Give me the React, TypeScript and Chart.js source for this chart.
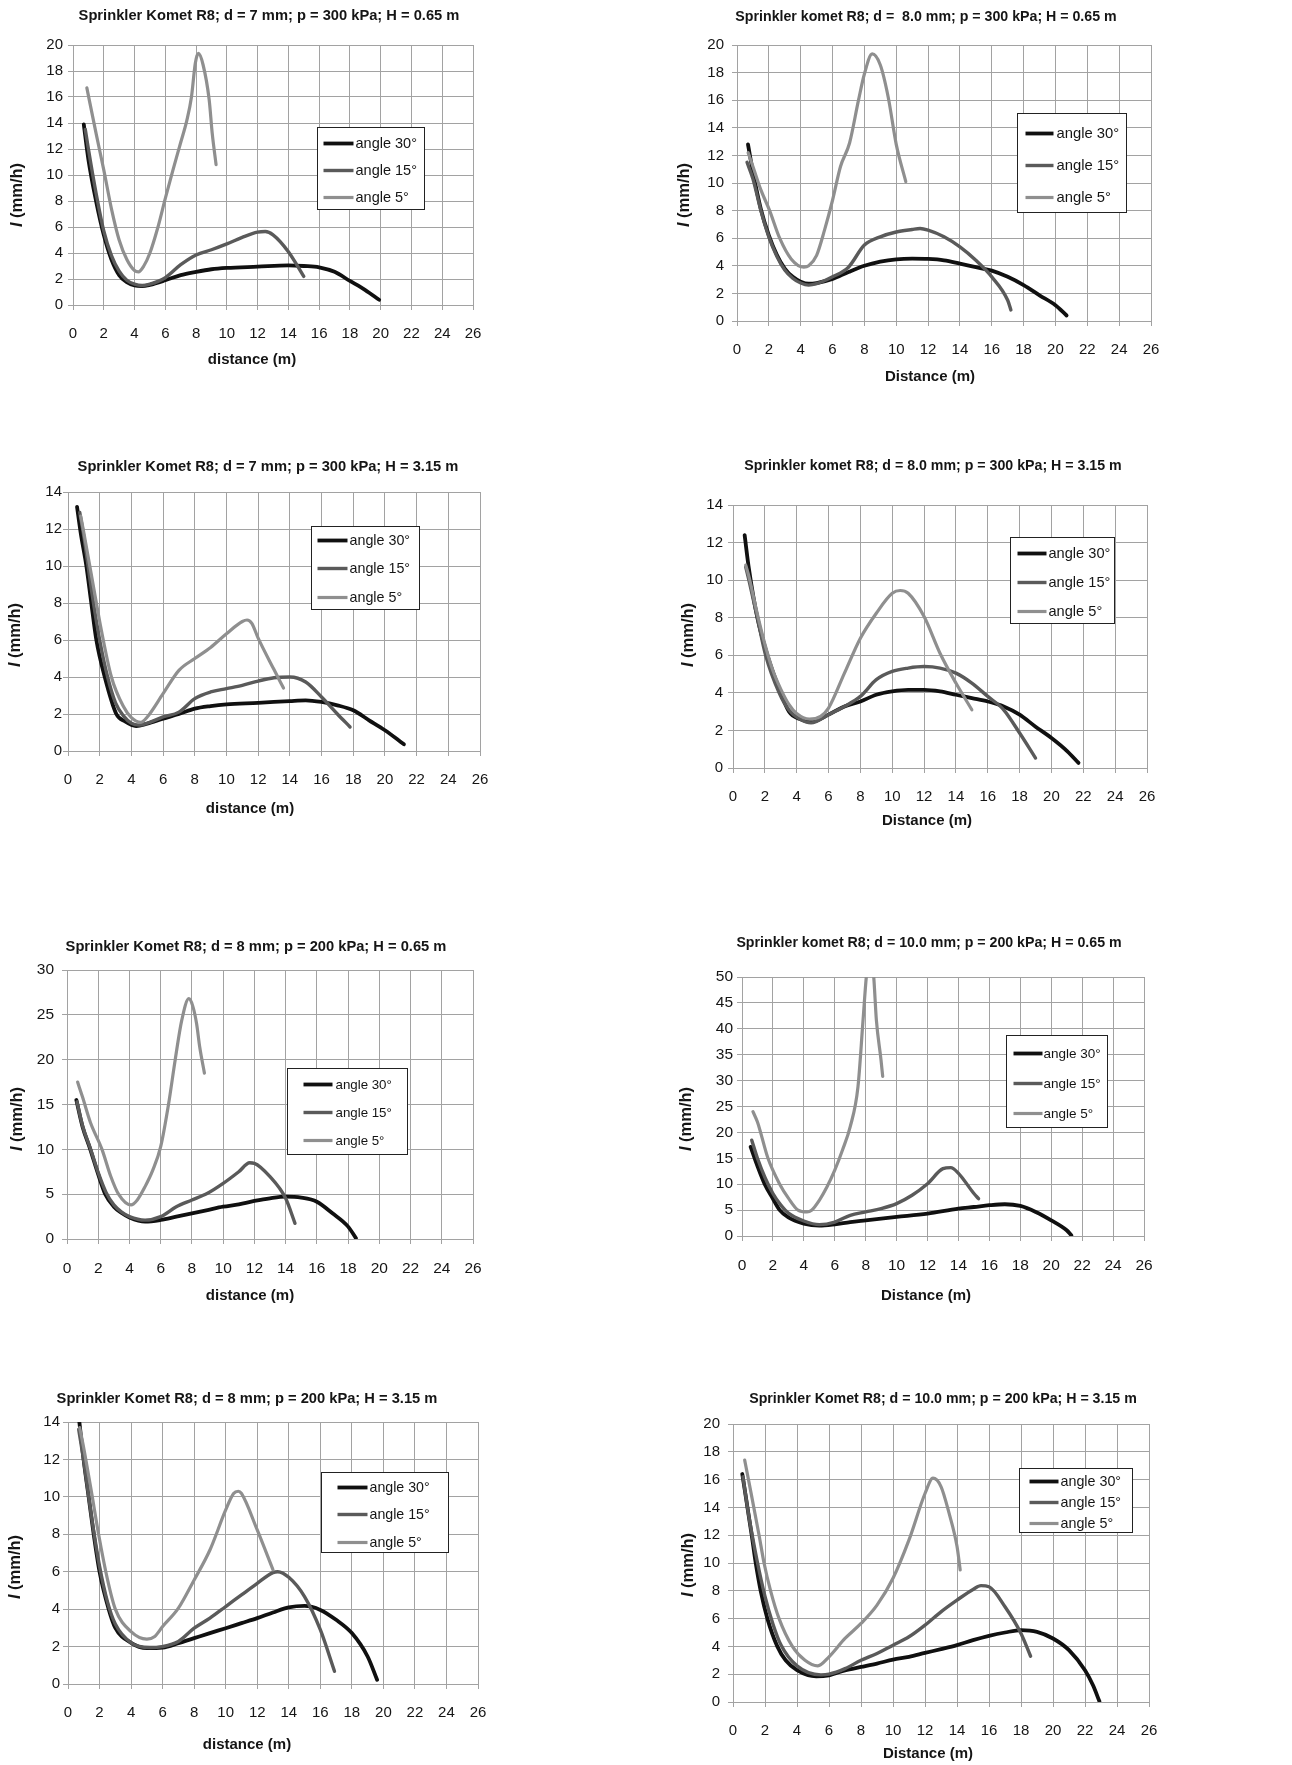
import { useEffect, useRef } from 'react';
import { Chart, registerables } from 'chart.js';

Chart.register(...registerables);

const FONT = "'Liberation Sans', Arial, Helvetica, sans-serif";

// ---------- shared ----------
const xTickStep = 2;
const xMin = 0;
const xMax = 26;
const seriesLabels = ['angle 30°', 'angle 15°', 'angle 5°'];

// ---------- Panel 1: d = 7 mm; p = 300 kPa; H = 0.65 m ----------
const p1x30 = [0.7, 1.0, 1.5, 2.0, 2.5, 3.0, 3.5, 4.0, 4.5, 5, 6, 7, 8, 9, 10, 12, 14, 15, 16, 17, 18, 19, 19.9];
const p1y30 = [13.9, 11.2, 8.0, 5.4, 3.5, 2.3, 1.75, 1.5, 1.45, 1.55, 1.9, 2.3, 2.55, 2.75, 2.85, 2.95, 3.05, 3.0, 2.9, 2.55, 1.85, 1.15, 0.4];
const p1x15 = [0.8, 1.0, 1.5, 2.0, 2.5, 3.0, 3.5, 4.0, 4.5, 5, 6, 7, 8, 9, 10, 11, 12, 12.5, 13, 14, 15];
const p1y15 = [13.5, 12.0, 8.6, 5.7, 3.8, 2.6, 1.9, 1.6, 1.5, 1.6, 2.1, 3.1, 3.85, 4.25, 4.7, 5.2, 5.6, 5.65, 5.4, 4.1, 2.2];
const p1x5 = [0.9, 1.5, 2.0, 2.5, 3.0, 3.5, 4.0, 4.25, 4.6, 5.0, 5.5, 6.0, 6.5, 7.0, 7.4, 7.7, 7.95, 8.15, 8.45, 8.85, 9.05, 9.3];
const p1y5 = [16.7, 13.2, 10.4, 7.4, 5.0, 3.5, 2.65, 2.55, 3.0, 4.0, 5.9, 8.2, 10.4, 12.5, 14.2, 16.0, 18.6, 19.35, 18.5, 15.8, 13.2, 10.8];

// ---------- Panel 2: d = 8.0 mm; p = 300 kPa; H = 0.65 m ----------
const p2x30 = [0.69, 1.0, 1.5, 2.0, 2.5, 3.0, 3.5, 4.0, 4.5, 5, 6, 7, 8, 9, 10, 11, 12, 13, 14, 15, 16, 17, 18, 19, 20, 20.7];
const p2y30 = [12.8, 10.8, 8.1, 6.2, 4.8, 3.8, 3.2, 2.85, 2.7, 2.75, 3.05, 3.55, 4.0, 4.3, 4.47, 4.52, 4.5, 4.4, 4.16, 3.9, 3.65, 3.2, 2.6, 1.86, 1.14, 0.4];
const p2x15 = [0.63, 1.0, 1.5, 2.0, 2.5, 3.0, 3.5, 4.0, 4.5, 5, 6, 7, 8, 9, 10, 11, 11.5, 12, 13, 14, 15, 16, 17, 17.2];
const p2y15 = [11.5, 10.3, 8.0, 6.1, 4.7, 3.7, 3.1, 2.75, 2.6, 2.7, 3.2, 3.9, 5.5, 6.1, 6.45, 6.63, 6.7, 6.58, 6.1, 5.37, 4.4, 3.2, 1.5, 0.8];
const p2x5 = [0.7, 1.0, 1.5, 2.05, 2.68, 3.4, 4.2, 4.5, 5.0, 5.5, 6.0, 6.5, 7.07, 7.63, 8.0, 8.49, 9.0, 9.5, 10.0, 10.6];
const p2y5 = [12.2, 11.2, 9.5, 8.0, 6.0, 4.5, 3.9, 4.0, 4.76, 6.6, 8.75, 11.2, 12.9, 16.0, 17.9, 19.35, 18.55, 16.2, 12.8, 10.1];

// ---------- Panel 3: d = 7 mm; p = 300 kPa; H = 3.15 m ----------
const p3x30 = [0.57, 0.8, 1.16, 1.47, 1.79, 2.32, 3.05, 3.6, 4.3, 5, 6, 7, 8, 9, 10, 12, 14, 15, 16, 17, 18, 19, 20, 21, 21.2];
const p3y30 = [13.2, 11.8, 10, 8, 6, 4, 2, 1.6, 1.35, 1.48, 1.75, 2.0, 2.29, 2.43, 2.52, 2.6, 2.7, 2.74, 2.65, 2.47, 2.2, 1.66, 1.12, 0.49, 0.36];
const p3x15 = [0.74, 1.0, 1.5, 2.0, 2.5, 3.0, 3.5, 4.0, 4.5, 5, 6, 7, 8, 9, 10, 11, 12, 13, 14, 15, 16, 17, 17.8];
const p3y15 = [12.9, 11.6, 8.6, 6.0, 4.0, 2.6, 1.9, 1.5, 1.4, 1.5, 1.84, 2.1, 2.83, 3.19, 3.37, 3.55, 3.78, 3.96, 4.0, 3.73, 2.92, 2.0, 1.3];
const p3x5 = [0.8, 1.0, 1.5, 1.79, 2.0, 2.74, 3.5, 4.0, 4.6, 5, 6, 7, 8, 9, 10, 11, 11.3, 11.6, 12, 13, 13.6];
const p3y5 = [12.7, 11.8, 9.4, 8.0, 7.0, 4.0, 2.4, 1.8, 1.55, 1.84, 3.1, 4.36, 5.0, 5.6, 6.34, 7.0, 7.08, 6.9, 6.1, 4.4, 3.4];

// ---------- Panel 4: d = 8.0 mm; p = 300 kPa; H = 3.15 m ----------
const p4x30 = [0.73, 1.0, 1.53, 2.16, 3.0, 3.52, 4.2, 4.9, 6, 7, 8, 9, 10, 11, 12, 13, 14, 15, 16, 17, 18, 19, 20, 21, 21.7];
const p4y30 = [12.4, 10.6, 8, 6, 4, 3, 2.6, 2.45, 2.84, 3.28, 3.54, 3.9, 4.08, 4.16, 4.16, 4.08, 3.9, 3.72, 3.54, 3.28, 2.84, 2.2, 1.6, 0.89, 0.27];
const p4x15 = [0.8, 1.0, 1.53, 2.05, 2.9, 3.5, 4.2, 4.9, 6, 7, 8, 9, 10, 11, 12, 13, 14, 15, 16, 17, 18, 19];
const p4y15 = [10.7, 10.0, 8, 6, 4, 3.1, 2.6, 2.4, 2.84, 3.28, 3.81, 4.7, 5.14, 5.32, 5.4, 5.32, 5.05, 4.52, 3.81, 3.1, 1.86, 0.53];
const p4x5 = [0.8, 1.0, 1.5, 2.0, 2.5, 3.0, 3.5, 4.0, 4.8, 5.5, 6, 7, 8, 9, 10, 10.5, 11, 12, 13, 14, 15];
const p4y5 = [10.8, 10.2, 8.3, 6.6, 5.2, 4.2, 3.4, 2.9, 2.6, 2.75, 3.19, 5.05, 6.91, 8.24, 9.3, 9.45, 9.3, 8.06, 6.11, 4.52, 3.1];

// ---------- Panel 5: d = 8 mm; p = 200 kPa; H = 0.65 m ----------
const p5x30 = [0.6, 1.0, 1.49, 2.0, 2.45, 3.0, 3.5, 4.0, 5, 6, 7, 8, 9, 10, 11, 12, 13, 14, 15, 16, 17, 18, 18.5];
const p5y30 = [15.5, 12.5, 10, 7.2, 5, 3.6, 2.9, 2.4, 1.93, 2.12, 2.49, 2.86, 3.23, 3.6, 3.87, 4.24, 4.54, 4.72, 4.61, 4.16, 2.86, 1.38, 0.1];
const p5x15 = [0.64, 1.0, 1.5, 2.0, 2.5, 3.0, 3.5, 4.0, 5, 6, 7, 8, 9, 10, 11, 11.7, 12, 13, 14, 14.6];
const p5y15 = [15.3, 12.6, 10.1, 7.4, 5.2, 3.8, 3.0, 2.5, 2.1, 2.49, 3.6, 4.35, 5.1, 6.2, 7.5, 8.5, 8.44, 6.95, 4.54, 1.75];
const p5x5 = [0.68, 1.0, 1.5, 2.24, 2.8, 3.3, 4.1, 4.5, 5.0, 5.5, 6.0, 6.5, 6.93, 7.35, 7.8, 8.05, 8.3, 8.5, 8.8];
const p5y5 = [17.5, 15.8, 13.0, 10, 7.0, 5, 3.8, 4.35, 5.84, 7.7, 10.3, 15.0, 20, 24.4, 26.8, 26.0, 24.0, 21.4, 18.5];

// ---------- Panel 6: d = 10.0 mm; p = 200 kPa; H = 0.65 m ----------
const p6x30 = [0.56, 1.0, 1.47, 2.0, 2.44, 3.0, 4.0, 5, 6, 7, 8, 10, 12, 14, 15, 16, 17, 18, 19, 20, 21, 21.3];
const p6y30 = [17.2, 13.5, 10, 7.2, 5, 3.6, 2.4, 2.0, 2.26, 2.7, 3.03, 3.68, 4.32, 5.29, 5.6, 5.94, 6.13, 5.8, 4.65, 3.03, 1.1, 0.13];
const p6x15 = [0.63, 1.0, 1.5, 2.0, 2.5, 3.0, 4.0, 5, 6, 7, 8, 9, 10, 11, 12, 13, 13.5, 14, 15, 15.3];
const p6y15 = [18.5, 15, 11.2, 8.2, 6, 4.4, 2.9, 2.2, 2.7, 4.0, 4.65, 5.29, 6.26, 7.87, 10.1, 13.0, 13.2, 12.1, 8.2, 7.2];
const p6x5 = [0.71, 1.0, 1.68, 2.44, 3.0, 3.62, 4.2, 4.5, 5, 5.5, 6, 6.5, 7, 7.5, 7.83, 8.04, 8.28, 8.52, 8.69, 8.99, 9.1];
const p6y5 = [24, 22, 15, 10, 7.3, 5, 4.65, 4.97, 6.9, 9.5, 12.7, 16.6, 21.1, 28.8, 41.7, 50, 55, 50, 41.7, 34, 30.8];

// ---------- Panel 7: d = 8 mm; p = 200 kPa; H = 3.15 m ----------
const p7x30 = [0.72, 0.99, 1.31, 1.63, 2.0, 2.58, 3.0, 4.0, 5.0, 6, 7, 8, 9, 10, 11, 12, 13, 14, 15, 16, 17, 18, 19, 19.6];
const p7y30 = [14.0, 12, 10, 8, 6, 4, 3, 2.2, 1.92, 1.95, 2.18, 2.45, 2.72, 2.98, 3.25, 3.52, 3.82, 4.09, 4.17, 3.96, 3.43, 2.72, 1.47, 0.23];
const p7x15 = [0.68, 1.0, 1.5, 2.0, 2.5, 3.0, 4.0, 5.2, 6, 7, 8, 9, 10, 11, 12, 13, 13.3, 14, 15, 16, 16.9];
const p7y15 = [13.6, 11.9, 8.9, 6.3, 4.4, 3.2, 2.2, 1.95, 2.0, 2.27, 2.98, 3.52, 4.14, 4.76, 5.38, 5.95, 6.0, 5.7, 4.67, 2.9, 0.68];
const p7x5 = [0.74, 1.0, 1.5, 1.94, 2.5, 3.0, 4.0, 5.0, 5.5, 6, 7, 8, 9, 10, 10.5, 10.8, 11, 12, 13];
const p7y5 = [13.7, 12.6, 10.2, 8, 5.6, 4.0, 2.8, 2.4, 2.54, 3.07, 4.05, 5.56, 7.16, 9.3, 10.18, 10.3, 10.18, 8.23, 6.1];

// ---------- Panel 8: d = 10.0 mm; p = 200 kPa; H = 3.15 m ----------
const p8x30 = [0.58, 1.17, 1.42, 1.73, 2.15, 2.77, 3.29, 4.0, 5.2, 6, 7, 8, 9, 10, 11, 12, 13, 14, 15, 16, 17, 18, 19, 20, 21, 22, 22.5, 22.9];
const p8y30 = [16.4, 12, 10, 8, 6, 4, 3, 2.3, 1.85, 1.92, 2.28, 2.52, 2.76, 3.05, 3.25, 3.53, 3.8, 4.09, 4.45, 4.76, 5.0, 5.17, 5.05, 4.57, 3.73, 2.28, 1.2, 0.05];
const p8x15 = [0.62, 1.0, 1.5, 2.0, 2.5, 3.0, 4.0, 5.5, 6, 7, 8, 9, 10, 11, 12, 13, 14, 15, 15.5, 16, 17, 18, 18.6];
const p8y15 = [16.2, 13.3, 10.2, 7.6, 5.6, 4.1, 2.6, 1.95, 2.0, 2.4, 3.0, 3.49, 4.09, 4.69, 5.53, 6.49, 7.33, 8.1, 8.37, 8.29, 6.85, 4.93, 3.29];
const p8x5 = [0.73, 1.0, 1.63, 1.94, 2.35, 2.88, 3.71, 4.5, 5.3, 6, 7, 8, 9, 10, 11, 12, 12.5, 13, 13.5, 14, 14.2];
const p8y5 = [17.4, 15.8, 12, 10, 8, 6, 4, 3.0, 2.6, 3.25, 4.57, 5.65, 6.97, 8.9, 11.66, 15.0, 16.1, 15.5, 13.6, 11.2, 9.5];

// ---------- panel content ----------
const PANELS = [
  { title: 'Sprinkler Komet R8; d = 7 mm; p = 300 kPa; H = 0.65 m', xTitle: 'distance (m)', yMax: 20, yStep: 2,
    series: [[p1x30, p1y30], [p1x15, p1y15], [p1x5, p1y5]] },
  { title: 'Sprinkler komet R8; d =  8.0 mm; p = 300 kPa; H = 0.65 m', xTitle: 'Distance (m)', yMax: 20, yStep: 2,
    series: [[p2x30, p2y30], [p2x15, p2y15], [p2x5, p2y5]] },
  { title: 'Sprinkler Komet R8; d = 7 mm; p = 300 kPa; H = 3.15 m', xTitle: 'distance (m)', yMax: 14, yStep: 2,
    series: [[p3x30, p3y30], [p3x15, p3y15], [p3x5, p3y5]] },
  { title: 'Sprinkler komet R8; d = 8.0 mm; p = 300 kPa; H = 3.15 m', xTitle: 'Distance (m)', yMax: 14, yStep: 2,
    series: [[p4x30, p4y30], [p4x15, p4y15], [p4x5, p4y5]] },
  { title: 'Sprinkler Komet R8; d = 8 mm; p = 200 kPa; H = 0.65 m', xTitle: 'distance (m)', yMax: 30, yStep: 5,
    series: [[p5x30, p5y30], [p5x15, p5y15], [p5x5, p5y5]] },
  { title: 'Sprinkler komet R8; d = 10.0 mm; p = 200 kPa; H = 0.65 m', xTitle: 'Distance (m)', yMax: 50, yStep: 5,
    series: [[p6x30, p6y30], [p6x15, p6y15], [p6x5, p6y5]] },
  { title: 'Sprinkler Komet R8; d = 8 mm; p = 200 kPa; H = 3.15 m', xTitle: 'distance (m)', yMax: 14, yStep: 2,
    series: [[p7x30, p7y30], [p7x15, p7y15], [p7x5, p7y5]] },
  { title: 'Sprinkler Komet R8; d = 10.0 mm; p = 200 kPa; H = 3.15 m', xTitle: 'Distance (m)', yMax: 20, yStep: 2,
    series: [[p8x30, p8y30], [p8x15, p8y15], [p8x5, p8y5]] },
];

// ---------- layout & style (page pixel coordinates) ----------
const LINE_COLORS = ['#101010', '#5a5a5a', '#8f8f8f'];
const LINE_WIDTHS = [3.8, 3.4, 3.2];
const GRID = '#a2a2a2';
const TEXT = '#151515';

const LAYOUTS = [
  { plot: [73, 45, 473, 305], title: [269, 16, 14.7], xt: [252, 360], yt: [17, 195], yPad: 10, tickFs: 15,
    lg: { x: 317, y: 127, w: 107, h: 82, rows: [16, 43, 70], lx: 6, len: 30, tx: 38, fs: 14.5 } },
  { plot: [737, 45, 1151, 321], title: [926, 17, 14.2], xt: [930, 377], yt: [684, 195], yPad: 13, tickFs: 15,
    lg: { x: 1017, y: 113, w: 109, h: 99, rows: [20, 52, 84], lx: 8, len: 28, tx: 39, fs: 14.8 } },
  { plot: [68, 492, 480, 751], title: [268, 467, 14.7], xt: [250, 809], yt: [15, 635], yPad: 6, tickFs: 15,
    lg: { x: 311, y: 526, w: 108, h: 83, rows: [14, 42, 71], lx: 6, len: 30, tx: 38, fs: 14.3 } },
  { plot: [733, 505, 1147, 768], title: [933, 466, 14.2], xt: [927, 821], yt: [688, 635], yPad: 10, tickFs: 15,
    lg: { x: 1010, y: 537, w: 104, h: 86, rows: [16, 45, 74], lx: 7, len: 29, tx: 38, fs: 14.6 } },
  { plot: [67, 970, 473, 1239], title: [256, 947, 14.7], xt: [250, 1296], yt: [17, 1119], yPad: 13, tickFs: 15.5,
    lg: { x: 287, y: 1068, w: 120, h: 86, rows: [16, 44, 72], lx: 16, len: 29, tx: 48, fs: 13.3 } },
  { plot: [742, 977, 1144, 1236], title: [929, 943, 14.2], xt: [926, 1296], yt: [686, 1119], yPad: 9, tickFs: 15.5,
    lg: { x: 1006, y: 1035, w: 101, h: 92, rows: [18, 48, 78], lx: 7, len: 29, tx: 37, fs: 13.5 } },
  { plot: [68, 1422, 478, 1684], title: [247, 1399, 14.7], xt: [247, 1745], yt: [15, 1567], yPad: 8, tickFs: 15,
    lg: { x: 321, y: 1472, w: 127, h: 80, rows: [15, 42, 70], lx: 16, len: 30, tx: 48, fs: 14.2 } },
  { plot: [733, 1424, 1149, 1702], title: [943, 1399, 14.2], xt: [928, 1754], yt: [688, 1565], yPad: 13, tickFs: 15,
    lg: { x: 1019, y: 1468, w: 113, h: 64, rows: [13, 34, 55], lx: 10, len: 29, tx: 41, fs: 14.3 } },
];

const PAD_L = 80;
const PAD_T = 60;
const PAD_R = 30;
const PAD_B = 70;
const TICK_LEN = 5;

function geom(i: number) {
  const [l, t, r, b] = LAYOUTS[i].plot;
  return { left: l - PAD_L, top: t - PAD_T, w: r - l + PAD_L + PAD_R, h: b - t + PAD_T + PAD_B };
}

function makeTextPlugin(i: number) {
  const L = LAYOUTS[i];
  const P = PANELS[i];
  const g = geom(i);
  return {
    id: 'panelText' + i,
    afterDraw(chart: any) {
      const ctx: CanvasRenderingContext2D = chart.ctx;
      const ox = g.left;
      const oy = g.top;
      ctx.save();
      ctx.fillStyle = TEXT;
      ctx.textBaseline = 'middle';
      // title
      ctx.textAlign = 'center';
      ctx.font = `bold ${L.title[2]}px ${FONT}`;
      ctx.fillText(P.title, L.title[0] - ox, L.title[1] - oy);
      // x-axis title
      ctx.font = `bold 15px ${FONT}`;
      ctx.fillText(P.xTitle, L.xt[0] - ox, L.xt[1] - oy);
      // y-axis title with italic I
      ctx.save();
      ctx.translate(L.yt[0] - ox, L.yt[1] - oy);
      ctx.rotate(-Math.PI / 2);
      const fI = `italic bold 16.5px ${FONT}`;
      const fR = `bold 16.5px ${FONT}`;
      ctx.font = fI;
      const wI = ctx.measureText('I').width;
      ctx.font = fR;
      const rest = ' (mm/h)';
      const wR = ctx.measureText(rest).width;
      const start = -(wI + wR) / 2;
      ctx.textAlign = 'left';
      ctx.font = fI;
      ctx.fillText('I', start, 0);
      ctx.font = fR;
      ctx.fillText(rest, start + wI, 0);
      ctx.restore();
      // legend
      const lg = L.lg;
      const bx = Math.round(lg.x - ox) + 0.5;
      const by = Math.round(lg.y - oy) + 0.5;
      ctx.fillStyle = '#ffffff';
      ctx.fillRect(bx, by, lg.w, lg.h);
      ctx.strokeStyle = '#222222';
      ctx.lineWidth = 1;
      ctx.strokeRect(bx, by, lg.w, lg.h);
      chart.data.datasets.forEach((ds: any, k: number) => {
        const ry = by + lg.rows[k];
        ctx.strokeStyle = ds.borderColor;
        ctx.lineWidth = ds.borderWidth;
        ctx.beginPath();
        ctx.moveTo(bx + lg.lx, ry);
        ctx.lineTo(bx + lg.lx + lg.len, ry);
        ctx.stroke();
        ctx.fillStyle = TEXT;
        ctx.font = `${lg.fs}px ${FONT}`;
        ctx.textAlign = 'left';
        ctx.fillText(ds.label, bx + lg.tx, ry + 0.5);
      });
      ctx.restore();
    },
  };
}

function buildConfig(i: number): any {
  const P = PANELS[i];
  const L = LAYOUTS[i];
  const tickFont = { family: FONT, size: L.tickFs };
  const xLabelPad = Math.round(29 - TICK_LEN - (L.tickFs * 1.2) / 2);
  return {
    type: 'line',
    data: {
      datasets: P.series.map(([xs, ys], k) => ({
        label: seriesLabels[k],
        data: xs.map((x, j) => ({ x, y: ys[j] })),
        borderColor: LINE_COLORS[k],
        backgroundColor: LINE_COLORS[k],
        borderWidth: LINE_WIDTHS[k],
        pointRadius: 0,
        pointHoverRadius: 0,
        fill: false,
        cubicInterpolationMode: 'monotone',
        borderCapStyle: 'round',
        borderJoinStyle: 'round',
        order: 3 - k,
      })),
    },
    options: {
      animation: false,
      responsive: false,
      devicePixelRatio: 1,
      events: [],
      layout: { padding: { left: 0, top: PAD_T, right: PAD_R, bottom: 0 } },
      plugins: {
        legend: { display: false },
        title: { display: false },
        tooltip: { enabled: false },
      },
      scales: {
        x: {
          type: 'linear',
          min: xMin,
          max: xMax,
          ticks: { stepSize: xTickStep, font: tickFont, color: TEXT, padding: xLabelPad, maxRotation: 0 },
          grid: { color: GRID, lineWidth: 1, tickLength: TICK_LEN, drawTicks: true },
          border: { color: GRID, width: 1 },
          afterFit: (s: any) => { s.height = PAD_B; },
        },
        y: {
          type: 'linear',
          min: 0,
          max: P.yMax,
          ticks: { stepSize: P.yStep, font: tickFont, color: TEXT, padding: L.yPad - TICK_LEN },
          grid: { color: GRID, lineWidth: 1, tickLength: TICK_LEN, drawTicks: true },
          border: { color: GRID, width: 1 },
          afterFit: (s: any) => { s.width = PAD_L; },
        },
      },
    },
    plugins: [makeTextPlugin(i)],
  };
}

export default function App() {
  const refs = useRef<(HTMLCanvasElement | null)[]>([]);

  useEffect(() => {
    const charts: Chart[] = [];
    PANELS.forEach((_, i) => {
      const c = refs.current[i];
      if (c) charts.push(new Chart(c, buildConfig(i)));
    });
    return () => charts.forEach((c) => c.destroy());
  }, []);

  return (
    <div style={{ position: 'absolute', left: 0, top: 0, width: 1292, height: 1765, overflow: 'hidden', background: '#ffffff' }}>
      {PANELS.map((_, i) => {
        const g = geom(i);
        return (
          <canvas
            key={i}
            ref={(el) => { refs.current[i] = el; }}
            width={g.w}
            height={g.h}
            style={{ position: 'absolute', left: g.left, top: g.top, width: g.w, height: g.h }}
          />
        );
      })}
    </div>
  );
}
